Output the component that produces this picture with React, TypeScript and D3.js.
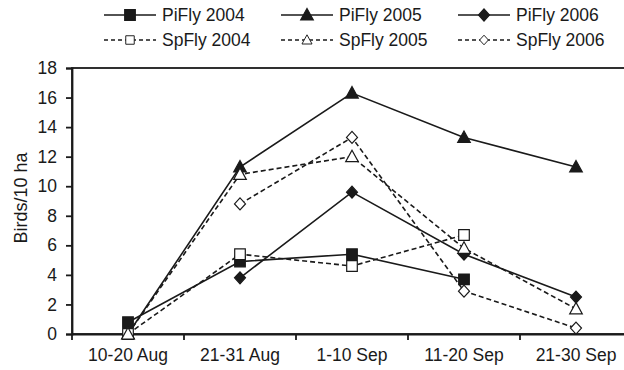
import React, { useEffect, useRef } from 'react';
import * as d3 from 'd3';

const categories = ['10-20 Aug', '21-31 Aug', '1-10 Sep', '11-20 Sep', '21-30 Sep'];
const yTicks = [0, 2, 4, 6, 8, 10, 12, 14, 16, 18];

// null = no survey value for that period
const piFly2004 = [0.8, 4.9, 5.4, 3.7, null];
const piFly2005 = [0, 11.3, 16.3, 13.3, 11.3];
const piFly2006 = [null, 3.8, 9.6, 5.4, 2.5];
const spFly2004 = [0, 5.4, 4.6, 6.7, null];
const spFly2005 = [0, 10.8, 12.0, 5.8, 1.7];
const spFly2006 = [null, 8.8, 13.3, 2.9, 0.4];

const seriesNames = ['PiFly 2004', 'PiFly 2005', 'PiFly 2006', 'SpFly 2004', 'SpFly 2005', 'SpFly 2006'];
const seriesValues = [piFly2004, piFly2005, piFly2006, spFly2004, spFly2005, spFly2006];
const seriesShapes = ['square', 'triangle', 'diamond', 'square', 'triangle', 'diamond'];
const seriesFilled = [true, true, true, false, false, false];

const width = 624;
const height = 370;
const font = '"Liberation Sans", Arial, sans-serif';
const ink = '#1a1a1a';

function markerPath(shape: string) {
    if (shape === 'square') return 'M-5.3,-5.3H5.3V5.3H-5.3Z';
    if (shape === 'triangle') return 'M0,-6.5L6.3,5L-6.3,5Z';
    return 'M0,-6L5.5,0L0,6L-5.5,0Z';
}

function App() {
    const ref = useRef<SVGSVGElement>(null);

    useEffect(() => {
        const svg = d3.select(ref.current);
        svg.selectAll('*').remove();

        const x = d3.scaleBand().domain(categories).range([72, 632]).padding(0);
        const y = d3.scaleLinear().domain([0, 18]).range([334, 68]);

        // frame (right side falls outside the picture)
        svg.append('rect')
            .attr('x', 72).attr('y', y(18))
            .attr('width', 560).attr('height', y(0) - y(18))
            .attr('fill', 'none').attr('stroke', ink).attr('stroke-width', 1.8);

        const yAxis = svg.append('g')
            .attr('transform', 'translate(72,0)')
            .call(d3.axisLeft(y).tickValues(yTicks).tickSize(6).tickPadding(9));
        const xAxis = svg.append('g')
            .attr('transform', `translate(0,${y(0)})`)
            .call(d3.axisBottom(x).tickSize(0).tickPadding(15));

        [yAxis, xAxis].forEach((g) => {
            g.select('.domain').attr('stroke', ink).attr('stroke-width', 1.8);
            g.selectAll('line').attr('stroke', ink).attr('stroke-width', 1.8);
            g.selectAll('text').attr('font-family', font).attr('font-size', 17.5).attr('fill', ink);
        });

        // x ticks on the band boundaries
        svg.append('g').selectAll('line')
            .data(categories)
            .enter()
            .append('line')
            .attr('x1', (d) => x(d)!).attr('x2', (d) => x(d)!)
            .attr('y1', y(0)).attr('y2', y(0) + 6)
            .attr('stroke', ink).attr('stroke-width', 1.8);

        svg.append('text')
            .attr('transform', 'translate(27,198) rotate(-90)')
            .attr('text-anchor', 'middle')
            .attr('font-family', font).attr('font-size', 18).attr('fill', ink)
            .text('Birds/10 ha');

        const cx = (i: number) => x(categories[i])! + x.bandwidth() / 2;
        const line = d3.line<number | null>()
            .defined((d) => d !== null)
            .x((_, i) => cx(i))
            .y((d) => y(d as number));

        seriesValues.forEach((vals, s) => {
            svg.append('path')
                .attr('d', line(vals))
                .attr('fill', 'none')
                .attr('stroke', ink)
                .attr('stroke-width', 1.6)
                .attr('stroke-dasharray', seriesFilled[s] ? null : '5,3');
        });

        seriesValues.forEach((vals, s) => {
            svg.append('g').selectAll('path')
                .data(vals.map((v, i) => ({ v, i })).filter((d) => d.v !== null))
                .enter()
                .append('path')
                .attr('d', markerPath(seriesShapes[s]))
                .attr('transform', (d) => `translate(${cx(d.i)},${y(d.v as number)})`)
                .attr('fill', seriesFilled[s] ? ink : '#fff')
                .attr('stroke', ink)
                .attr('stroke-width', 1.2);
        });

        // legend: 3 columns, 2 rows
        const legend = svg.append('g');
        seriesNames.forEach((name, s) => {
            const col = s % 3;
            const row = Math.floor(s / 3);
            const lx = 104 + col * 177;
            const ly = 15 + row * 25;
            const item = legend.append('g').attr('transform', `translate(${lx},${ly})`);
            item.append('line')
                .attr('x1', 0).attr('x2', 52)
                .attr('stroke', ink).attr('stroke-width', 1.6)
                .attr('stroke-dasharray', seriesFilled[s] ? null : '4,3');
            item.append('path')
                .attr('d', markerPath(seriesShapes[s]))
                .attr('transform', `translate(26,0) scale(${seriesFilled[s] ? 1 : 0.8})`)
                .attr('fill', seriesFilled[s] ? ink : '#fff')
                .attr('stroke', ink).attr('stroke-width', 1.2);
            item.append('text')
                .attr('x', 58).attr('y', 0).attr('dy', '0.36em')
                .attr('font-family', font).attr('font-size', 17.5).attr('fill', ink)
                .text(name);
        });
    }, []);

    return (
        <svg ref={ref} width={width} height={height}
            style={{ position: 'absolute', left: 0, top: 0, background: '#fff' }} />
    );
}

export default App;
